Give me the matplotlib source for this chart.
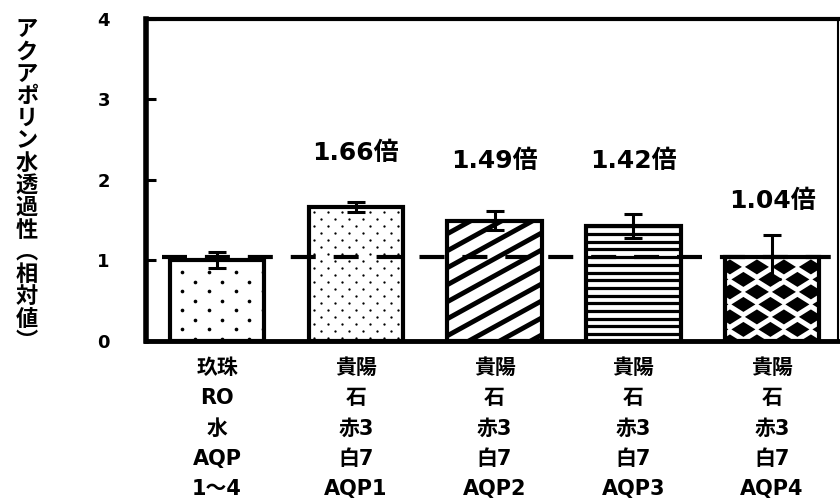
import numpy as np
import matplotlib
matplotlib.use("Agg")
import matplotlib.pyplot as plt
from matplotlib.patches import Polygon
from matplotlib.collections import PatchCollection, LineCollection

# ── chart data ────────────────────────────────────────────────────────────────
categories = ['玖珠\nRO\n水\nAQP\n1〜4',
              '貴陽\n石\n赤3\n白7\nAQP1',
              '貴陽\n石\n赤3\n白7\nAQP2',
              '貴陽\n石\n赤3\n白7\nAQP3',
              '貴陽\n石\n赤3\n白7\nAQP4']
values = [1.00, 1.66, 1.49, 1.42, 1.04]
errors = [0.10, 0.06, 0.12, 0.15, 0.27]
fold_labels = ['', '1.66倍', '1.49倍', '1.42倍', '1.04倍']
reference_level = 1.04
ylabel_text = 'アクアポリン水透過性︵相対値︶'
yticks = [0, 1, 2, 3, 4]

# ── layout ────────────────────────────────────────────────────────────────────
patterns = ['sparse_dots', 'dense_dots', 'diagonal', 'horizontal', 'diamonds']
label_y = [None, 2.33, 2.23, 2.23, 1.73]
XLIM = (-0.512, 4.475)
YLIM = (0, 4)
LAT = ['DejaVu Sans', 'Noto Sans CJK JP']

fig = plt.figure(figsize=(8.4, 4.99), dpi=100)
ax = fig.add_axes([146 / 840, 1 - 340.5 / 499, (838 - 146) / 840, (340.5 - 19) / 499])
ax.set_xlim(*XLIM)
ax.set_ylim(*YLIM)

# pixels per data unit, used to size the hand-drawn fill patterns
px_x = ax.bbox.width / (XLIM[1] - XLIM[0])
px_y = ax.bbox.height / (YLIM[1] - YLIM[0])

x = np.arange(len(values))
bars = ax.bar(x, values, width=0.68, color='white', edgecolor='black',
              linewidth=3, zorder=2)


def lattice(bar, dx_px, dy_px, x0_px, y0_px):
    """Staggered grid of centres covering a bar, in data coords."""
    left, top = bar.get_x(), bar.get_height()
    right = left + bar.get_width()
    dx, dy = dx_px / px_x, dy_px / px_y
    pts = []
    y = top - y0_px / px_y
    j = 0
    while y > -dy:
        xx = left + x0_px / px_x + (dx / 2 if j % 2 else 0) - dx
        while xx < right + dx:
            pts.append((xx, y))
            xx += dx
        y -= dy
        j += 1
    return np.array(pts)


def fill_pattern(bar, kind):
    left, top = bar.get_x(), bar.get_height()
    right = left + bar.get_width()
    if kind in ('sparse_dots', 'dense_dots'):
        if kind == 'sparse_dots':
            pts, s = lattice(bar, 27, 9.5, 12, 12), 7
        else:
            pts, s = lattice(bar, 14, 7, 5, 5), 2.8
        art = ax.scatter(pts[:, 0], pts[:, 1], s=s, c='black',
                         linewidths=0, zorder=3)
    elif kind == 'diagonal':
        slope = 0.55 * px_x / px_y
        step = 17 / px_y
        segs = []
        for y0 in np.arange(top + 4 / px_y, -slope * (right - left) - step, -step):
            segs.append([(left - 0.05, y0 - slope * 0.05),
                         (right + 0.05, y0 + slope * (right - left + 0.05))])
        art = LineCollection(segs, colors='black', linewidths=3.5, zorder=3)
        ax.add_collection(art)
    elif kind == 'horizontal':
        segs = [[(left, y), (right, y)]
                for y in np.arange(top, 0, -7.7 / px_y)]
        art = LineCollection(segs, colors='black', linewidths=2.3, zorder=3)
        ax.add_collection(art)
    else:
        a, b = 12 / px_x, 7.5 / px_y
        polys = [Polygon([(cx - a, cy), (cx, cy + b), (cx + a, cy), (cx, cy - b)])
                 for cx, cy in lattice(bar, 27, 12.5, 5, 10)]
        art = PatchCollection(polys, facecolor='black', edgecolor='none', zorder=3)
        ax.add_collection(art)
    art.set_clip_path(bar)


for bar, kind in zip(bars, patterns):
    fill_pattern(bar, kind)

ax.errorbar(x, values, yerr=errors, fmt='none', ecolor='black',
            elinewidth=2.2, capsize=6.5, capthick=2.2, zorder=5)

ax.plot([-0.397, XLIM[1]], [reference_level, reference_level], color='black',
        lw=3, linestyle=(0, (6, 4.3)), zorder=4)

for xi, lab, ly in zip(x, fold_labels, label_y):
    if lab:
        ax.text(xi, ly, lab, ha='center', va='center', fontsize=18,
                fontweight='bold', family=LAT)

# ── axes styling ──────────────────────────────────────────────────────────────
ax.set_yticks(yticks)
ax.set_yticklabels([str(t) for t in yticks], fontsize=13, fontweight='bold',
                   family=LAT)
ax.tick_params(axis='y', direction='in', length=7, width=2.2, pad=26)
ax.set_xticks(x)
ax.set_xticklabels(categories, fontsize=15, fontweight='bold', family=LAT,
                   linespacing=1.65)
ax.tick_params(axis='x', length=0, pad=12.5)

for side, lw in (('left', 4), ('bottom', 3.5), ('top', 3), ('right', 1.5)):
    ax.spines[side].set_linewidth(lw)

fig.text(27 / 840, 1 - 18 / 499, '\n'.join(ylabel_text), ha='center', va='top',
         fontsize=16, fontweight='bold', family=['Noto Sans CJK JP', 'DejaVu Sans'],
         linespacing=0.96)

fig.savefig('out.png', dpi=100)
